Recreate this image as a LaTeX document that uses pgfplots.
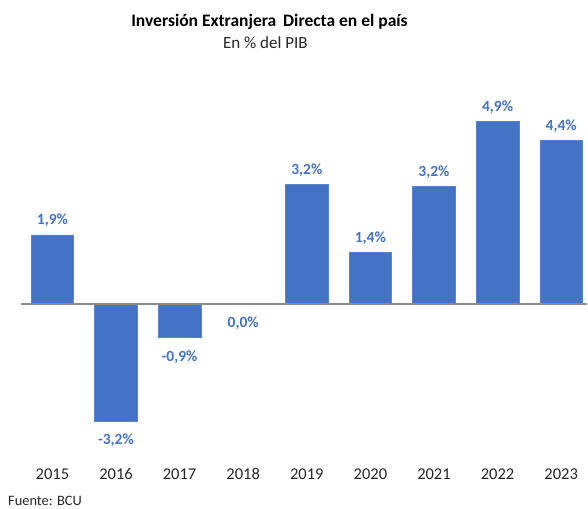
\documentclass[border=0pt]{standalone}
\usepackage{pgfplots}
\pgfplotsset{compat=1.18}
\usepackage{fontspec}
\setmainfont{Carlito}
\definecolor{barblue}{HTML}{4472C4}
\definecolor{baredge}{HTML}{5A86D0}
\definecolor{zline}{HTML}{8C8C8C}
\definecolor{txt}{HTML}{262626}
\begin{document}
\begin{tikzpicture}[x=1pt,y=1pt]
\useasboundingbox (0,0) rectangle (588,508);
\begin{axis}[
  at={(21pt,56pt)}, anchor=south west,
  scale only axis, width=566pt, height=344.1pt,
  xmin=-0.494, xmax=8.406, ymin=-4.0, ymax=5.3,
  clip=false,
  hide y axis,
  x axis line style={draw=none},
  xtick={0,1,2,3,4,5,6,7,8},
  xticklabels={2015,2016,2017,2018,2019,2020,2021,2022,2023},
  major tick length=0pt,
  xticklabel style={anchor=base, yshift=-27.3pt, font=\fontsize{16.5}{18}\selectfont, text=txt},
  ybar, bar width=0.668, bar shift=0pt,
  point meta=explicit symbolic,
  nodes near coords,
  every node near coord/.append style={font=\bfseries\fontsize{15.5}{17}\selectfont, text=barblue, anchor=base},
]
\addplot[fill=barblue, draw=baredge, line width=0.6pt,
  every node near coord/.append style={yshift=10pt}]
  coordinates {(0,1.87)[1,9\%] (4,3.24)[3,2\%] (5,1.39)[1,4\%] (6,3.18)[3,2\%] (7,4.93)[4,9\%] (8,4.43)[4,4\%]};
\addplot[fill=barblue, draw=baredge, line width=0.6pt,
  every node near coord/.append style={yshift=-23.5pt}]
  coordinates {(1,-3.17)[-3,2\%] (2,-0.91)[-0,9\%] (3,0)[0,0\%]};
\draw[zline, line width=1.4pt] (axis cs:-0.494,0) -- (axis cs:8.406,0);
\end{axis}
\node[anchor=base, font=\bfseries\fontsize{17.5}{20}\selectfont, text=black] at (269.5,481) {Inversión Extranjera\, Directa en el país};
\node[anchor=base, font=\fontsize{17}{20}\selectfont, text=txt] at (265.4,459.7) {En \% del PIB};
\node[anchor=base west, inner sep=0pt, font=\fontsize{14.4}{16}\selectfont, text=txt] at (8,3) {Fuente: BCU};
\end{tikzpicture}
\end{document}
